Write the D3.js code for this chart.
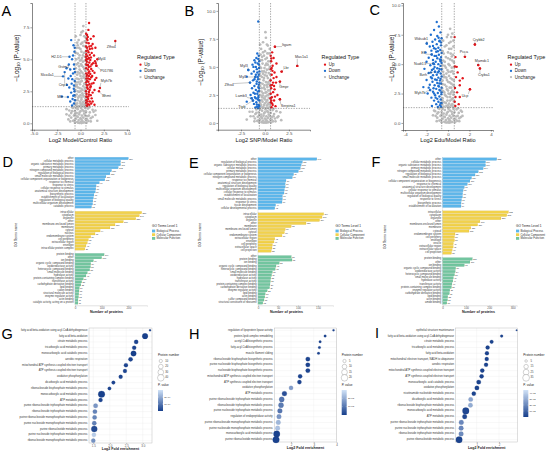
<!DOCTYPE html>
<html><head><meta charset="utf-8">
<script src="https://cdn.jsdelivr.net/npm/d3@7"></script>
<style>body{margin:0;background:#fff}svg{display:block;font-family:"Liberation Sans",Arial,"DejaVu Sans",sans-serif}</style>
</head><body><svg id="c" width="550" height="452"></svg>
<script>
// ================= DATA =================
// ---- Volcano A (Model vs Control) ----
const A_up = [[0.92,7.84],[0.85,7.3],[0.7,6.9],[1.1,6.6],[0.65,6.3],[1.3,6.2],[0.95,6.0],[1.6,5.9],[0.75,5.7],[1.2,5.5],[0.62,5.4],[1.45,5.3],[0.9,5.1],[1.05,4.95],[0.68,4.8],[1.35,4.7],[0.8,4.55],[1.7,4.5],[0.6,4.3],[1.15,4.25],[0.95,4.05],[1.5,3.95],[0.72,3.8],[1.25,3.7],[0.63,3.5],[1.0,3.45],[0.85,3.25],[1.4,3.15],[0.66,3.0],[1.1,2.9],[0.78,2.7],[0.6,2.5],[1.3,2.4],[0.9,2.25],[0.7,2.05],[1.2,1.95],[0.62,1.8],[1.0,1.7],[0.8,1.5],[0.65,1.4],[1.5,1.45],[1.8,5.0],[1.55,3.4],[0.75,6.5],[1.0,5.8],[0.6,6.0],[0.88,4.4],[0.7,3.3],[0.98,2.6],[1.15,3.6],[0.66,5.05],[0.82,1.9],[0.6,7.0],[0.78,6.75],[1.4,6.8],[0.7,5.9],[1.25,5.85],[0.58,5.2],[1.0,5.35],[0.75,5.0],[1.55,4.85],[0.62,4.6],[1.05,4.45],[0.8,4.2],[1.3,4.1],[0.6,3.9],[0.9,3.7],[1.7,3.55],[0.8,3.5],[0.6,3.2],[1.2,3.1],[0.75,2.95],[1.05,2.8],[1.5,2.6],[0.65,2.3],[1.1,2.2],[0.85,2.1],[0.6,1.6],[1.3,1.7],[0.95,1.45],[0.72,1.35],[0.68,6.6],[0.88,6.25],[1.15,6.05],[0.62,5.65],[0.86,5.55],[0.74,5.25],[1.12,5.15],[0.94,4.75],[0.7,4.55],[1.2,4.6],[0.85,3.95],[1.05,3.85],[0.66,3.7],[0.95,3.05],[0.7,2.8],[0.62,2.1],[0.9,2.45],[0.75,1.7],[1.15,1.55],[0.6,4.95]];
const A_down = [[-1.0,6.5],[-0.75,6.1],[-0.65,5.6],[-0.9,5.0],[-1.5,4.3],[-0.7,4.6],[-0.8,3.9],[-1.3,3.5],[-0.62,3.3],[-0.95,3.1],[-1.2,2.8],[-0.72,2.7],[-1.0,2.4],[-0.66,2.2],[-0.85,1.9],[-1.1,1.7],[-0.7,1.55],[-0.9,1.4],[-2.0,2.1],[-1.45,3.0],[-0.6,4.0],[-0.8,5.3],[-1.05,3.7],[-0.62,5.9],[-1.25,4.6],[-0.7,2.95],[-0.6,1.8],[-0.68,4.25],[-0.88,3.45],[-0.65,2.5],[-0.78,2.15]];
const A_unch = [[0.3,7.6],[0.1,7.1],[0.4,6.8],[-0.2,6.5],[0.2,6.3],[0.5,6.0],[-0.4,5.9],[0.0,5.8],[0.35,5.5],[-0.1,5.3],[0.15,5.1],[-0.45,5.0],[0.45,4.9],[-0.25,4.7],[0.05,4.6],[0.3,4.4],[-0.5,4.3],[-0.1,4.2],[0.5,4.1],[0.2,3.95],[-0.35,3.8],[0.0,3.7],[0.4,3.55],[-0.2,3.45],[0.15,3.3],[-0.5,3.2],[0.55,3.1],[-0.05,3.05],[0.3,2.9],[-0.3,2.8],[0.1,2.7],[-0.55,2.6],[0.45,2.55],[-0.15,2.45],[0.2,2.35],[-0.4,2.25],[0.0,2.2],[0.35,2.1],[-0.25,2.0],[0.55,1.95],[0.1,1.85],[-0.5,1.8],[-0.05,1.7],[0.25,1.65],[-0.35,1.55],[0.45,1.5],[0.05,1.42],[-0.15,1.35],[0.3,1.32],[-0.45,1.4],[0.25,7.2],[0.45,6.4],[-0.3,6.1],[0.1,5.6],[-0.05,4.9],[0.25,4.8],[-0.3,4.0],[0.35,3.8],[0.1,3.5],[-0.4,3.0],[0.45,2.75],[0.0,2.5],
[-0.5,6.8],[0.0,6.9],[0.55,6.7],[-0.35,6.3],[0.05,6.2],[0.3,6.05],[-0.15,5.9],[0.55,5.6],[-0.5,5.5],[0.25,5.3],[-0.3,5.45],[0.45,5.2],[-0.2,5.1],[0.1,4.95],[0.55,4.6],[-0.4,4.6],[0.15,4.5],[-0.15,4.45],[0.4,4.25],[-0.55,4.0],[0.05,4.05],[0.3,3.65],[-0.1,3.9],[0.55,3.4],[-0.4,3.5],[0.0,3.25],[-0.25,3.2],[0.4,3.1],[0.2,2.6],[-0.5,2.9],[-0.1,2.75],[0.55,2.35],[-0.3,2.5],[0.25,2.2],[-0.55,2.1],[0.1,2.0],[-0.15,2.1],[0.45,1.75],[-0.3,1.8],[0.2,1.5],[-0.55,1.5],[0.0,1.55],[0.35,1.4],[-0.25,1.3],
[-0.8,1.2],[0.8,1.15],[-1.2,1.0],[1.3,1.05],[-0.3,1.1],[0.2,1.05],[-0.6,0.95],[0.6,0.9],[0.0,0.95],[-1.0,0.8],[1.0,0.85],[-0.4,0.8],[0.4,0.75],[-1.5,0.7],[1.6,0.65],[-0.15,0.7],[0.15,0.6],[-0.7,0.6],[0.75,0.55],[-0.3,0.5],[0.3,0.45],[-1.0,0.45],[1.1,0.4],[0.0,0.4],[-0.5,0.35],[0.55,0.3],[-0.2,0.25],[0.2,0.2],[-0.8,0.2],[0.85,0.18],[0.05,0.12],[-0.35,0.1],[0.4,0.08],[-0.1,0.03],[0.1,0.02],[-0.6,0.05],[0.65,0.05],[1.4,0.9],[-1.3,0.3],[1.8,0.2],[-0.9,1.25],[0.95,1.25],
[-0.45,1.2],[0.5,1.2],[0.05,1.2],[-1.5,1.1],[1.6,1.0],[-0.9,0.95],[0.9,0.6],[-0.6,0.7],[0.35,0.95],[-0.1,0.85],[-1.2,0.6],[1.3,0.5],[0.5,0.6],[-0.4,0.55],[0.1,0.3],[-0.65,0.25],[0.7,0.3],[-1.1,0.15],[1.1,0.15],[0.25,0.05],[-0.25,0.05]];
const A_genes = ["Zfhx4","Myl4","P01786","Myh7b","Bhmt","H2-D1","Gstm2","Slco4a1","Cnp1","Mlrr"];
const A_geneXY = [[3.73,6.43],[1.63,4.69],[1.7,4.5],[2.08,2.76],[1.98,2.5],[-1.18,5.2],[-1.1,4.2],[-1.87,3.67],[-1.7,4.0],[-1.35,2.05]];
const A_xTicks = [-5,-2.5,0,2.5,5], A_yTicks = [0,2.5,5,7.5];
const A_xTitle = "Log2 Model/Control Ratio";

// ---- Volcano B (SNP vs Model) ----
const B_up = [[1.04,6.8],[0.75,6.3],[0.6,6.0],[0.9,5.8],[3.37,5.09],[0.65,5.5],[1.2,5.3],[0.8,5.1],[0.62,4.8],[1.74,4.58],[1.0,4.5],[0.7,4.3],[0.9,4.0],[0.6,3.8],[1.56,3.69],[1.15,3.6],[0.75,3.4],[0.65,3.1],[1.0,3.0],[0.85,2.75],[0.6,2.6],[1.3,2.5],[0.72,2.3],[1.56,2.12],[0.95,2.0],[0.62,1.85],[0.8,1.6],[1.1,1.5],[0.68,1.4],[0.58,2.2],[0.7,4.9],[0.85,3.6],[0.6,3.35],[1.2,4.1],[0.66,5.75],[0.78,4.65],[0.95,3.3],[0.66,2.0],[0.74,1.75],[1.05,2.35]];
const B_down = [[-0.7,9.05],[-0.65,6.0],[-0.9,5.8],[-0.6,5.5],[-1.1,5.6],[-0.75,5.3],[-1.3,5.2],[-0.95,5.0],[-0.62,4.9],[-1.74,4.73],[-1.15,4.6],[-0.8,4.5],[-1.4,4.4],[-0.65,4.3],[-1.9,4.13],[-1.0,4.1],[-0.72,3.9],[-1.25,3.8],[-1.56,3.6],[-0.6,3.6],[-0.88,3.5],[-1.1,3.3],[-0.7,3.2],[-1.35,3.1],[-0.95,2.95],[-0.63,2.85],[-1.2,2.7],[-0.8,2.6],[-1.5,2.5],[-0.68,2.4],[-1.05,2.3],[-1.39,2.2],[-0.75,2.1],[-0.6,2.0],[-1.9,1.9],[-0.9,1.85],[-1.15,1.7],[-0.65,1.6],[-0.82,1.45],[-1.0,1.38],[-0.7,1.32],[-1.25,2.0],[-0.85,3.7],[-1.0,5.4],[-0.58,4.6],[-0.7,5.7],[-0.85,4.8],[-0.62,3.1],[-1.1,3.9],[-0.75,2.8],[-0.6,1.5],[-0.95,2.2],[-0.8,6.2],[-0.62,5.2],[-1.2,5.0],[-0.75,4.1],[-0.95,4.3],[-0.65,3.4],[-1.05,2.6],[-0.7,2.25],[-0.85,1.65]];
const B_unch = [[0.05,8.1],[0.1,7.6],[-0.2,7.2],[0.3,6.9],[-0.4,6.6],[0.0,6.4],[0.45,6.2],[-0.1,6.0],[0.2,5.8],[-0.5,5.6],[0.35,5.5],[-0.25,5.3],[0.05,5.15],[0.5,5.0],[-0.4,4.9],[0.2,4.75],[-0.1,4.6],[0.4,4.45],[-0.55,4.4],[0.0,4.25],[-0.3,4.1],[0.3,4.0],[0.55,3.85],[-0.15,3.8],[0.1,3.65],[-0.45,3.55],[0.45,3.45],[-0.05,3.35],[0.25,3.2],[-0.35,3.1],[0.0,3.0],[0.5,2.9],[-0.55,2.85],[0.15,2.75],[-0.2,2.65],[0.35,2.5],[-0.4,2.45],[0.05,2.35],[-0.1,2.2],[0.55,2.15],[0.25,2.05],[-0.5,2.0],[-0.25,1.9],[0.4,1.8],[0.0,1.75],[-0.4,1.6],[0.2,1.55],[0.5,1.45],[-0.15,1.4],[0.1,1.33],[-0.55,1.35],[0.2,7.0],[-0.3,5.9],[0.15,5.3],[-0.2,4.4],[0.3,3.6],[-0.3,2.3],
[-0.5,7.0],[0.5,6.6],[-0.2,6.3],[0.25,6.2],[-0.45,6.1],[0.05,5.7],[0.55,5.5],[-0.3,5.6],[0.3,5.2],[-0.5,5.0],[-0.05,4.9],[0.45,4.8],[-0.3,4.6],[0.1,4.5],[0.55,4.3],[-0.45,4.2],[0.2,4.2],[-0.1,4.0],[0.45,3.7],[-0.55,3.9],[-0.25,3.5],[0.2,3.4],[0.55,3.25],[-0.5,3.3],[-0.1,3.15],[0.35,2.9],[-0.35,2.8],[0.05,2.7],[0.45,2.6],[-0.55,2.5],[0.2,2.45],[-0.2,2.45],[0.0,2.1],[0.4,2.25],[-0.35,2.05],[0.15,1.9],[-0.5,1.75],[0.3,1.65],[-0.1,1.6],[0.5,1.7],[-0.3,1.4],[0.3,1.35],
[-0.9,1.2],[0.8,1.15],[-1.3,1.0],[1.2,1.05],[-0.3,1.1],[0.25,1.05],[-0.65,0.95],[0.6,0.9],[0.0,0.95],[-1.0,0.8],[0.95,0.8],[-0.4,0.75],[0.4,0.75],[-1.5,0.6],[1.4,0.6],[-0.15,0.65],[0.15,0.6],[-0.75,0.55],[0.75,0.55],[-0.3,0.45],[0.3,0.45],[-1.05,0.4],[1.05,0.4],[0.0,0.4],[-0.5,0.3],[0.55,0.3],[-0.2,0.22],[0.2,0.2],[-0.8,0.18],[0.85,0.15],[0.05,0.12],[-0.35,0.08],[0.4,0.08],[-0.1,0.03],[0.1,0.02],[-0.6,0.05],[0.65,0.04],[-1.9,0.3],[1.7,0.25],[-0.9,1.28],[0.9,1.27],
[-0.5,1.2],[0.5,1.2],[0.05,1.2],[-1.6,1.0],[1.6,0.95],[-0.9,0.9],[0.9,0.6],[-0.6,0.7],[0.35,0.95],[-0.1,0.85],[-1.2,0.6],[1.3,0.5],[0.5,0.6],[-0.4,0.55],[0.1,0.3],[-0.65,0.25],[0.7,0.3],[-1.1,0.15],[1.1,0.15],[0.25,0.05],[-0.25,0.05]];
const B_genes = ["Itgam","Mas1a1","Lbr","Gmpr","Serpina1","Myl3","Myl1","Zfhx4","Lamb3","Ttpb"];
const B_geneXY = [[1.04,6.8],[3.37,5.09],[1.74,4.58],[1.56,3.69],[1.56,2.12],[-1.74,4.73],[-1.0,4.1],[-1.56,3.6],[-1.39,2.2],[-1.25,2.0]];
const B_xTicks = [-2.5,0,2.5], B_yTicks = [0,2.5,5,7.5,10];
const B_xTitle = "Log2 SNP/Model Ratio";

// ---- Volcano C (Edu vs Model) ----
const C_up = [[2.51,6.67],[1.58,5.62],[2.82,4.92],[2.98,4.64],[2.05,2.86],[0.62,7.3],[0.7,5.6],[0.81,4.77],[0.65,4.8],[0.9,4.3],[1.1,3.6],[1.37,3.8],[0.75,3.9],[1.1,3.2],[0.65,2.97],[0.85,2.6],[1.1,2.2],[0.7,2.2],[0.63,1.8],[1.0,1.6],[0.68,1.45]];
const C_down = [[-1.05,8.58],[-0.85,8.2],[-1.3,7.9],[-0.7,7.7],[-1.6,7.5],[-1.0,7.4],[-0.6,7.2],[-1.2,7.1],[-0.8,6.95],[-1.45,6.9],[-1.98,6.75],[-1.05,6.7],[-0.65,6.6],[-1.7,6.5],[-0.9,6.4],[-1.3,6.35],[-0.72,6.2],[-1.55,6.15],[-1.1,6.05],[-0.6,5.95],[-2.1,6.0],[-1.52,5.82],[-0.85,5.8],[-1.25,5.7],[-0.65,5.6],[-1.8,5.55],[-1.0,5.5],[-0.75,5.4],[-1.4,5.35],[-2.0,5.2],[-1.15,5.2],[-0.6,5.1],[-1.37,5.06],[-0.9,5.0],[-1.65,4.9],[-0.7,4.85],[-1.25,4.75],[-1.0,4.65],[-2.2,4.6],[-0.62,4.55],[-1.5,4.5],[-0.85,4.4],[-1.21,4.35],[-1.8,4.25],[-0.68,4.2],[-1.05,4.1],[-1.4,4.05],[-0.6,3.95],[-1.6,3.9],[-0.9,3.85],[-1.2,3.7],[-2.0,3.65],[-0.75,3.6],[-1.45,3.5],[-1.0,3.4],[-0.65,3.35],[-1.7,3.25],[-1.25,3.2],[-0.85,3.1],[-2.3,3.05],[-0.6,3.0],[-1.67,2.8],[-1.1,2.9],[-0.72,2.75],[-1.4,2.65],[-0.95,2.55],[-1.9,2.5],[-0.62,2.45],[-1.2,2.35],[-0.8,2.25],[-1.55,2.15],[-1.0,2.05],[-0.68,2.0],[-1.3,1.9],[-0.9,1.8],[-0.6,1.7],[-1.1,1.6],[-0.75,1.5],[-1.5,1.45],[-0.65,1.38],[-0.95,1.35],[-0.78,7.0],[-1.15,6.3],[-0.7,5.25],[-1.6,4.3],[-0.8,3.35],[-1.35,2.95],[-0.6,2.6],[-1.8,3.0],[-0.95,4.3],[-1.3,5.0],[-0.88,7.25],[-0.65,6.85],[-1.4,6.55],[-0.95,6.1],[-0.66,5.35],[-1.1,5.7],[-0.8,4.6],[-1.35,4.6],[-0.7,3.75],[-1.05,3.65],[-0.9,3.15],[-1.5,3.8],[-0.8,2.8],[-1.15,2.15],[-0.7,1.7],[-1.3,2.5]];
const C_unch = [[0.2,8.0],[0.4,7.6],[-0.1,7.3],[0.5,7.0],[0.1,6.8],[-0.3,6.5],[0.3,6.3],[-0.5,6.1],[0.0,6.0],[0.45,5.8],[-0.2,5.6],[0.2,5.4],[-0.45,5.3],[0.55,5.15],[0.05,5.0],[-0.3,4.85],[0.35,4.7],[-0.55,4.6],[-0.05,4.5],[0.25,4.35],[0.5,4.2],[-0.4,4.1],[0.1,4.0],[-0.15,3.85],[0.4,3.7],[-0.5,3.6],[0.0,3.5],[0.3,3.35],[-0.3,3.25],[0.55,3.15],[0.15,3.0],[-0.55,2.95],[-0.1,2.85],[0.4,2.75],[-0.35,2.6],[0.05,2.5],[0.5,2.4],[-0.2,2.3],[0.2,2.2],[-0.5,2.1],[0.35,2.0],[-0.05,1.9],[0.55,1.85],[-0.35,1.75],[0.1,1.65],[-0.55,1.6],[0.3,1.5],[-0.15,1.45],[0.45,1.38],[0.0,1.33],[0.3,7.3],[0.25,5.9],[-0.15,4.2],[0.3,2.6],[-0.4,3.9],
[-0.45,7.0],[0.0,7.5],[0.25,6.9],[-0.15,6.6],[0.5,6.5],[0.1,6.3],[-0.4,5.9],[0.35,5.65],[0.0,5.5],[-0.3,5.2],[0.4,5.3],[0.15,4.9],[-0.5,4.9],[0.55,4.75],[-0.2,4.7],[0.05,4.35],[0.4,4.4],[-0.45,4.35],[-0.3,3.9],[0.25,3.8],[0.55,3.6],[-0.1,3.65],[0.15,3.45],[-0.5,3.3],[0.45,3.25],[-0.15,3.1],[0.3,3.0],[0.0,2.75],[-0.45,2.7],[0.55,2.6],[0.2,2.45],[-0.3,2.4],[-0.05,2.2],[0.45,2.1],[-0.5,1.9],[0.2,1.9],[-0.2,1.7],[0.4,1.6],[0.0,1.5],[-0.4,1.4],[0.15,1.35],
[-0.8,1.2],[0.8,1.15],[-1.2,1.0],[1.2,1.05],[-0.3,1.1],[0.2,1.05],[-0.6,0.95],[0.6,0.9],[0.0,0.95],[-1.0,0.8],[1.0,0.85],[-0.4,0.8],[0.4,0.75],[-1.4,0.65],[1.35,0.6],[-0.15,0.7],[0.15,0.6],[-0.7,0.6],[0.75,0.55],[-0.3,0.5],[0.3,0.45],[-1.0,0.45],[1.05,0.4],[0.0,0.4],[-0.5,0.35],[0.55,0.3],[-0.2,0.25],[0.2,0.2],[-0.8,0.2],[0.85,0.18],[0.05,0.12],[-0.35,0.1],[0.4,0.08],[-0.1,0.03],[0.1,0.02],[-0.6,0.05],[0.65,0.05],[-0.9,1.25],[0.95,1.25],
[-0.5,1.2],[0.5,1.2],[0.05,1.2],[-1.3,1.05],[1.3,0.95],[-0.9,0.9],[0.9,0.6],[-0.6,0.7],[0.35,0.95],[-0.1,0.85],[-1.15,0.6],[1.2,0.5],[0.5,0.6],[-0.4,0.55],[0.1,0.3],[-0.65,0.25],[0.7,0.3],[-1.05,0.15],[1.05,0.15],[0.25,0.05],[-0.25,0.05]];
const C_genes = ["Wdsub1","Ell","Nudt13","Bzrh","Myh7b","Crybb2","Pcca","Mamdc1","Cryba1","Ucp"];
const C_geneXY = [[-1.98,6.75],[-1.52,5.82],[-1.37,5.06],[-1.21,4.35],[-1.67,2.8],[2.51,6.67],[1.58,5.62],[2.82,4.92],[2.98,4.64],[2.05,2.86]];
const C_xTicks = [-4,-2,0,2,4], C_yTicks = [0,2.5,5,7.5,10];
const C_xTitle = "Log2 Edu/Model Ratio";
const regTypes = ["Up","Down","Unchange"];

// ---- GO bar data ----
const D_bp = ["other","cellular metabolic process","organic substance metabolic process","primary metabolic process","nitrogen compound metabolic process","regulation of biological process","small molecule metabolic process","cellular component organization or biogenesis","response to chemical","response to stress","cellular response to stimulus","anatomical structure development","biosynthetic process","establishment of localization","regulation of biological quality","multicellular organism development","catabolic process"];
const D_bpV = [200,171,171,162,137,131,116,112,91,79,78,76,71,69,67,66,62];
const D_cc = ["intracellular","cytoplasm","organelle","other","membrane-enclosed lumen","membrane","cytosol","nucleus","endomembrane system","cell periphery","extracellular region","envelope","intracellular protein complex"];
const D_ccV = [250,241,228,181,150,131,94,75,59,50,46,41,37];
const D_mf = ["protein binding","other","ion binding","organic cyclic compound binding","oxidoreductase activity","heterocyclic compound binding","small molecule binding","hydrolase activity","protein-containing complex binding","transferase activity","carbohydrate derivative binding","lipid binding","cation binding","structural molecule activity","enzyme regulator activity","actin binding","catalytic activity, acting on a protein"];
const D_mfV = [109,100,69,59,58,55,46,41,31,25,22,16,15,14,13,11,11];

const E_bp = ["other","regulation of biological process","organic substance metabolic process","cellular metabolic process","primary metabolic process","cellular component organization or biogenesis","nitrogen compound metabolic process","response to chemical","anatomical structure development","regulation of biological quality","multicellular organism development","cellular response to stimulus","establishment of localization","small molecule metabolic process","response to stress","tissue development","cellular developmental process"];
const E_bpV = [147,111,108,106,101,89,86,70,68,68,66,65,61,61,60,44,42];
const E_cc = ["intracellular","cytoplasm","organelle","other","membrane","membrane-enclosed lumen","cytosol","endomembrane system","extracellular region","envelope","cell periphery","extracellular space","cell projection"];
const E_ccV = [164,160,154,120,83,68,66,60,42,40,36,35,33];
const E_mf = ["other","protein binding","ion binding","organic cyclic compound binding","heterocyclic compound binding","small molecule binding","oxidoreductase activity","hydrolase activity","transferase activity","protein-containing complex binding","carbohydrate derivative binding","enzyme regulator activity","lipid binding","actin binding","sulfur compound binding","structural constituent of ribosome"];
const E_mfV = [83,85,53,45,43,36,34,32,31,30,29,23,18,17,15,12];

const F_bp = ["other","cellular metabolic process","organic substance metabolic process","primary metabolic process","nitrogen compound metabolic process","regulation of biological process","small molecule metabolic process","cellular component organization or biogenesis","response to chemical","anatomical structure development","cellular response to stimulus","multicellular organism development","regulation of biological quality","response to stress","biosynthetic process","establishment of localization"];
const F_bpV = [232,184,184,174,153,139,124,117,106,93,88,86,85,81,79,79];
const F_cc = ["intracellular","cytoplasm","organelle","other","membrane-enclosed lumen","membrane","cytosol","endomembrane system","cell periphery","envelope","vesicle","extracellular region","extracellular space","cell projection"];
const F_ccV = [282,275,250,160,150,121,113,53,51,51,46,45,41,38];
const F_mf = ["protein binding","other","ion binding","organic cyclic compound binding","oxidoreductase activity","heterocyclic compound binding","small molecule binding","hydrolase activity","transferase activity","protein-containing complex binding","enzyme regulator activity","carbohydrate derivative binding","lipid binding","actin binding","amide binding"];
const F_mfV = [127,117,93,56,54,51,46,44,40,38,31,29,22,21,18];
const D_ticks = [0,100,200], E_ticks = [0,50,100,150], F_ticks = [0,100,200,300];
const goLevels = ["Biological Process","Cellular Component","Molecular Function"];

// ---- GO enrichment bubble data ----
const G_terms = ["fatty acid beta-oxidation using acyl-CoA dehydrogenase","fatty acid beta-oxidation","citrate metabolic process","tricarboxylic acid metabolic process","monocarboxylic acid catabolic process","aerobic respiration","mitochondrial ATP synthesis coupled electron transport","ATP synthesis coupled electron transport","oxidative phosphorylation","dicarboxylic acid metabolic process","ribonucleoside bisphosphate metabolic process","monocarboxylic acid metabolic process","ATP metabolic process","purine ribonucleoside triphosphate metabolic process","ribonucleoside triphosphate metabolic process","purine ribonucleoside monophosphate metabolic process","purine nucleoside monophosphate metabolic process","purine ribonucleotide metabolic process","purine nucleoside triphosphate metabolic process","ribonucleoside monophosphate metabolic process"];
const G_fold = [3.22,3.07,2.80,2.74,2.72,2.63,2.49,2.46,2.33,2.11,1.99,1.75,1.72,1.57,1.55,1.54,1.53,1.53,1.52,1.50];
const G_n = [4,29,16,15,27,17,15,14,14,12,11,40,15,18,17,17,17,33,16,16];
const G_p = [1e-5,1e-6,1e-5,1e-5,1e-6,1e-5,1e-5,1e-5,1e-5,1e-5,1e-5,1e-6,1e-5,1.6e-4,1.25e-4,1.3e-4,1.2e-4,2e-5,2.6e-4,1.5e-4];
const G_xTicks = [1.5,2.0,2.5,3.0], G_sizeKeys = [10,20,30,40], G_pTicks = [1e-4,2e-4];

const H_terms = ["regulation of lipoprotein lipase activity","protein-lipid complex remodeling","acetyl-CoA biosynthetic process","fatty-acyl-CoA biosynthetic process","muscle filament sliding","ribonucleoside bisphosphate biosynthetic process","purine nucleoside bisphosphate biosynthetic process","nucleoside bisphosphate biosynthetic process","mitochondrial ATP synthesis coupled electron transport","ATP synthesis coupled electron transport","oxidative phosphorylation","ATP metabolic process","purine ribonucleoside triphosphate metabolic process","ribonucleoside triphosphate metabolic process","purine nucleoside triphosphate metabolic process","regulation of endopeptidase activity","purine ribonucleoside monophosphate metabolic process","purine nucleoside monophosphate metabolic process","monocarboxylic acid metabolic process","purine ribonucleotide metabolic process"];
const H_fold = [3.87,3.5,3.28,3.25,3.21,2.74,2.74,2.74,2.40,2.37,2.0,1.71,1.59,1.56,1.51,1.47,1.44,1.41,1.37,1.34];
const H_n = [2,3,3,3,3,9,9,9,8,8,8,11,12,12,11,10,10,10,19,20];
const H_p = [1e-4,1e-4,1e-4,1e-4,1e-4,1e-4,1e-4,1e-4,1e-4,1e-4,0.0017,3e-4,0.001,0.0011,0.001,0.0016,0.0022,0.0024,5e-5,5e-5];
const H_xTicks = [2,3,4], H_sizeKeys = [5,10,15,20], H_pTicks = [0.001,0.002];

const I_terms = ["epithelial structure maintenance","fatty acid beta-oxidation using acyl-CoA dehydrogenase","citrate metabolic process","tricarboxylic acid metabolic process","fatty acid beta-oxidation","mitochondrial electron transport, NADH to ubiquinone","aerobic respiration","mitochondrial ATP synthesis coupled electron transport","ATP synthesis coupled electron transport","monocarboxylic acid catabolic process","oxidative phosphorylation","nicotinamide nucleotide metabolic process","dicarboxylic acid metabolic process","ribonucleoside bisphosphate metabolic process","monocarboxylic acid metabolic process","ATP metabolic process","purine ribonucleoside triphosphate metabolic process","purine nucleoside triphosphate metabolic process","ribonucleoside triphosphate metabolic process","purine ribonucleotide metabolic process"];
const I_fold = [2.79,2.12,1.67,1.49,1.46,1.45,1.42,1.25,1.22,1.09,1.01,0.87,0.73,0.72,0.51,0.46,0.31,0.30,0.30,0.21];
const I_n = [2,6,10,12,12,12,12,13,13,15,15,13,15,15,33,16,17,17,17,31];
const I_p = [1e-3,1e-3,1e-3,1e-3,1e-3,1e-3,1e-3,1e-3,1e-3,1e-3,1e-3,1e-3,0.028,0.03,0.002,0.002,0.02,0.02,0.021,0.001];
const I_xTicks = [1,2], I_sizeKeys = [5,15,25,35], I_pTicks = [0.01,0.02,0.03,0.04];

// ================= DRAWING =================
const svg = d3.select("#c");
svg.append("rect").attr("width",550).attr("height",452).attr("fill","#fff");
const defs = svg.append("defs");
const COL = {up:"#e3151b", down:"#1f6fd0", unch:"#bcbcbc"};
const GOCOL = ["#5db6ea","#f2d24b","#72c59f"], GOSTROKE = ["#3d98cf","#caa82a","#4fa67f"];
const fmtNum = f => v => d3.format(f)(v).replace("\u2212","-");

function letter(t, x, y) {
  svg.append("text").attr("x",x).attr("y",y).attr("font-size",14.5).attr("fill","#000").text(t);
}

function volcano(d, L) {
  const g = svg.append("g");
  const x = d3.scaleLinear(L.xd, L.xr), y = d3.scaleLinear(L.yd, L.yr);
  const pts = (arr, c, rr) => g.append("g").selectAll("circle").data(arr).join("circle")
    .attr("cx", p => x(p[0])).attr("cy", p => y(p[1])).attr("r", rr).attr("fill", c);
  pts(d.unch, COL.unch, 1.35); pts(d.down, COL.down, 1.2); pts(d.up, COL.up, 1.2);
  pts(d.geneXY.filter(p=>p[0]<0), COL.down, 1.2); pts(d.geneXY.filter(p=>p[0]>0), COL.up, 1.2);
  const fc = Math.log2(1.5), pv = -Math.log10(0.05);
  [-fc, fc].forEach(v => g.append("line").attr("x1",x(v)).attr("x2",x(v)).attr("y1",L.yr[1]).attr("y2",L.yr[0])
    .attr("stroke","#555").attr("stroke-width",0.5).attr("stroke-dasharray","1.4,1.2"));
  g.append("line").attr("x1",L.xr[0]).attr("x2",L.xr[1]).attr("y1",y(pv)).attr("y2",y(pv))
    .attr("stroke","#555").attr("stroke-width",0.5).attr("stroke-dasharray","1.4,1.2");
  const ax = g.append("g").attr("transform",`translate(0,${L.yr[0]})`)
    .call(d3.axisBottom(x).tickValues(d.xTicks).tickSize(1.6).tickPadding(1).tickFormat(fmtNum(L.xf)));
  const ay = g.append("g").attr("transform",`translate(${L.xr[0]},0)`)
    .call(d3.axisLeft(y).tickValues(d.yTicks).tickSize(1.6).tickPadding(1).tickFormat(fmtNum(".1f")));
  [ax, ay].forEach(a => { a.select(".domain").attr("stroke","#222").attr("stroke-width",0.55);
    a.selectAll(".tick line").attr("stroke","#333").attr("stroke-width",0.45);
    a.selectAll(".tick text").attr("font-size",4.4).attr("fill","#4d4d4d").attr("font-family",null); });
  g.append("text").attr("x",(L.xr[0]+L.xr[1])/2).attr("y",141.5).attr("text-anchor","middle")
    .attr("font-size",5.6).attr("fill","#111").text(d.xTitle);
  const yt = g.append("text").attr("transform",`translate(${L.ytx},${L.yty}) rotate(-90)`).attr("text-anchor","middle")
    .attr("font-size",6.4).attr("fill","#111");
  yt.append("tspan").text("\u2212Log");
  yt.append("tspan").attr("font-size",4.2).attr("dy",1.4).text("10");
  yt.append("tspan").attr("dy",-1.4).text(" (P-value)");
  const lab = g.append("g");
  d.genes.forEach((name, i) => {
    const px = x(d.geneXY[i][0]), py = y(d.geneXY[i][1]);
    const t = lab.append("text").attr("x", px + L.off[i][0]).attr("y", py + L.off[i][1])
      .attr("text-anchor","middle").attr("dominant-baseline","central").attr("font-size",3.7).attr("fill","#333").text(name);
    const bb = t.node().getBBox();
    const ex = Math.max(bb.x, Math.min(px, bb.x+bb.width)), ey = Math.max(bb.y+0.4, Math.min(py, bb.y+bb.height-0.4));
    if (Math.hypot(ex-px, ey-py) > 1.3)
      lab.insert("line", () => t.node()).attr("x1",px).attr("y1",py).attr("x2",ex).attr("y2",ey).attr("stroke","#444").attr("stroke-width",0.3);
  });
  g.append("text").attr("x",L.lx).attr("y",L.ly).attr("font-size",5.4).attr("fill","#111").text("Regulated Type");
  [COL.up, COL.down, COL.unch].forEach((c,i) => {
    const yy = L.ly + 6.2 + i*6.2;
    g.append("circle").attr("cx",L.lx+3.5).attr("cy",yy).attr("r",1.15).attr("fill",c);
    g.append("text").attr("x",L.lx+7.2).attr("y",yy).attr("dominant-baseline","central").attr("font-size",4.5).attr("fill","#222").text(regTypes[i]);
  });
}

function goBars(d, L) {
  const g = svg.append("g");
  const groups = [[d.bp,d.bpV],[d.cc,d.ccV],[d.mf,d.mfV]];
  const gap = 0.9, total = d.bp.length + d.cc.length + d.mf.length + 2*gap;
  const step = (L.bottom - L.top) / total;
  const rows = []; let pos = 0;
  groups.forEach((gr, gi) => { gr[0].forEach((name, i) => { rows.push({name, v: gr[1][i], gi, y: L.top + (pos+0.5)*step}); pos++; }); pos += gap; });
  const x = d3.scaleLinear([0, L.max], [L.x0, L.x1]);
  g.selectAll("rect.bar").data(rows).join("rect").attr("class","bar")
    .attr("x", x(0)).attr("y", r => r.y - step*0.4).attr("height", step*0.8)
    .attr("width", r => x(r.v) - x(0)).attr("fill", r => GOCOL[r.gi]).attr("stroke", r => GOSTROKE[r.gi]).attr("stroke-width",0.2);
  g.selectAll("text.vl").data(rows).join("text").attr("class","vl")
    .attr("x", r => x(r.v) + 0.8).attr("y", r => r.y).attr("dominant-baseline","central").attr("font-size",2.2).attr("fill","#333").text(r => r.v);
  g.selectAll("text.nm").data(rows).join("text").attr("class","nm")
    .attr("x", x(0) - 1.4).attr("y", r => r.y).attr("text-anchor","end").attr("dominant-baseline","central").attr("font-size",2.6).attr("fill","#3a3a3a").text(r => r.name);
  const ax = g.append("g").attr("transform",`translate(0,${L.bottom+0.8})`)
    .call(d3.axisBottom(x).tickValues(d.ticks).tickSize(1.2).tickPadding(0.8).tickFormat(d3.format("d")));
  ax.select(".domain").attr("stroke","#b5b5b5").attr("stroke-width",0.4);
  ax.selectAll(".tick line").attr("stroke","#999").attr("stroke-width",0.35);
  ax.selectAll(".tick text").attr("font-size",2.9).attr("fill","#555").attr("font-family",null);
  g.append("line").attr("x1",x(0)).attr("x2",x(0)).attr("y1",L.top).attr("y2",L.bottom+0.8).attr("stroke","#c5c5c5").attr("stroke-width",0.35);
  g.append("text").attr("x",L.xtx).attr("y",L.bottom+8.2).attr("text-anchor","middle").attr("font-size",3.6).attr("font-weight","bold").attr("fill","#222").text("Number of proteins");
  g.append("text").attr("transform",`translate(${L.ytx},${L.yty}) rotate(-90)`).attr("text-anchor","middle").attr("font-size",3.3).attr("fill","#222").text("GO Terms name");
  g.append("text").attr("x",L.lx).attr("y",L.ly).attr("font-size",3.2).attr("fill","#222").text("GO Terms Level 1");
  goLevels.forEach((n,i) => {
    const yy = L.ly + 4 + i*3.7;
    g.append("rect").attr("x",L.lx).attr("y",yy-1.4).attr("width",3.2).attr("height",2.8).attr("fill",GOCOL[i]);
    g.append("text").attr("x",L.lx+4.4).attr("y",yy).attr("dominant-baseline","central").attr("font-size",2.8).attr("fill","#333").text(n);
  });
}

let gradId = 0;
function bubbles(d, L) {
  const g = svg.append("g");
  const x = d3.scaleLinear(L.xd, [L.l, L.r]);
  const y = d3.scalePoint(d.terms, [L.t, L.b]).padding(0.4);
  const r = d3.scaleSqrt([0, L.nMax], [0, L.rMax]);
  const col = d3.scaleLinear(L.pd, ["#173f8c","#d0e2f7"]).clamp(true);
  g.append("rect").attr("x",L.l).attr("y",L.t).attr("width",L.r-L.l).attr("height",L.b-L.t).attr("fill","#fff");
  g.selectAll("line.gy").data(d.terms).join("line").attr("x1",L.l).attr("x2",L.r).attr("y1",t=>y(t)).attr("y2",t=>y(t)).attr("stroke","#ebebeb").attr("stroke-width",0.35);
  g.selectAll("line.gx").data(d.xTicks).join("line").attr("x1",v=>x(v)).attr("x2",v=>x(v)).attr("y1",L.t).attr("y2",L.b).attr("stroke","#ebebeb").attr("stroke-width",0.35);
  g.append("rect").attr("x",L.l).attr("y",L.t).attr("width",L.r-L.l).attr("height",L.b-L.t).attr("fill","none").attr("stroke","#b8b8b8").attr("stroke-width",0.45);
  const ax = g.append("g").attr("transform",`translate(0,${L.b})`).call(d3.axisBottom(x).tickValues(d.xTicks).tickSize(1.1).tickPadding(0.7).tickFormat(fmtNum(L.xf)));
  ax.select(".domain").remove();
  ax.selectAll(".tick line").attr("stroke","#555").attr("stroke-width",0.35);
  ax.selectAll(".tick text").attr("font-size",2.9).attr("fill","#555").attr("font-family",null);
  g.selectAll("text.tm").data(d.terms).join("text").attr("class","tm").attr("x",L.l-1.6).attr("y",t=>y(t)).attr("text-anchor","end").attr("dominant-baseline","central").attr("font-size",2.7).attr("fill","#333").text(t=>t);
  const rows = d.terms.map((t,i)=>({t, f:d.fold[i], n:d.n[i], p:d.p[i]}));
  g.selectAll("circle.b").data(rows).join("circle").attr("class","b").attr("cx",o=>x(o.f)).attr("cy",o=>y(o.t)).attr("r",o=>r(o.n))
    .attr("fill",o=>col(o.p)).attr("stroke",o=>d3.color(col(o.p)).darker(0.4)).attr("stroke-width",0.2);
  g.append("text").attr("x",(L.l+L.r)/2).attr("y",L.b+7.2).attr("text-anchor","middle").attr("font-size",3.6).attr("font-weight","bold").attr("fill","#222").text("Log2 Fold enrichment");
  g.append("text").attr("x",L.lx).attr("y",355.5).attr("font-size",3.1).attr("fill","#222").text("Protein number");
  d.sizeKeys.forEach((k,i) => {
    const yy = 361 + i*5.6;
    g.append("circle").attr("cx",L.lx+2.8).attr("cy",yy).attr("r",r(k)).attr("fill","#fff").attr("stroke","#666").attr("stroke-width",0.3);
    g.append("text").attr("x",L.lx+7.2).attr("y",yy).attr("dominant-baseline","central").attr("font-size",2.6).attr("fill","#333").text(k);
  });
  g.append("text").attr("x",L.lx).attr("y",386).attr("font-size",3.1).attr("fill","#222").text("P. value");
  const id = "gr" + (gradId++);
  const lg = defs.append("linearGradient").attr("id",id).attr("x1",0).attr("y1",1).attr("x2",0).attr("y2",0);
  d3.range(0,1.001,0.25).forEach(s => lg.append("stop").attr("offset",s).attr("stop-color",col(L.pd[0]+s*(L.pd[1]-L.pd[0]))));
  const cb = d3.scaleLinear(L.pd, [L.cbB, 390]);
  g.append("rect").attr("x",L.lx).attr("y",390).attr("width",5).attr("height",L.cbB-390).attr("fill",`url(#${id})`);
  d.pTicks.forEach(v => {
    g.append("line").attr("x1",L.lx).attr("x2",L.lx+1).attr("y1",cb(v)).attr("y2",cb(v)).attr("stroke","#fff").attr("stroke-width",0.3);
    g.append("line").attr("x1",L.lx+4).attr("x2",L.lx+5).attr("y1",cb(v)).attr("y2",cb(v)).attr("stroke","#fff").attr("stroke-width",0.3);
    g.append("text").attr("x",L.lx+6.2).attr("y",cb(v)).attr("dominant-baseline","central").attr("font-size",2.4).attr("fill","#333").text(d3.format(".0e")(v).replace("e-","e-0"));
  });
}

// ---- Row 1: volcanoes ----
volcano({up:A_up,down:A_down,unch:A_unch,genes:A_genes,geneXY:A_geneXY,xTicks:A_xTicks,yTicks:A_yTicks,xTitle:A_xTitle},
  {xd:[-5.2,5.2], xr:[32,129], yd:[-0.5,9.4], yr:[129.7,3], xf:".1f", ytx:18.5, yty:58, lx:137, ly:58.5,
   off:[[-4,6],[6,-4.7],[10.3,5.6],[6.5,-6.7],[7.5,5],[-13,0.3],[-6.5,-3],[-15.9,-1],[-1.6,13.2],[-7.5,0]]});
volcano({up:B_up,down:B_down,unch:B_unch,genes:B_genes,geneXY:B_geneXY,xTicks:B_xTicks,yTicks:B_yTicks,xTitle:B_xTitle},
  {xd:[-4.9,4.7], xr:[218,310], yd:[-0.6,10.7], yr:[129.7,3], xf:".1f", ytx:203, yty:62, lx:321.5, ly:58.5,
   off:[[11.7,-1.8],[4.3,-8.7],[4.5,-3.6],[4,5.6],[8.3,6.7],[-4.3,-4],[-12.4,0.2],[-20.8,2.6],[-10.4,-2.4],[-11,6.1]]});
volcano({up:C_up,down:C_down,unch:C_unch,genes:C_genes,geneXY:C_geneXY,xTicks:C_xTicks,yTicks:C_yTicks,xTitle:C_xTitle},
  {xd:[-4.2,4.2], xr:[403,493], yd:[-0.6,10.2], yr:[130,3], xf:"d", ytx:394, yty:58, lx:507.5, ly:58.5,
   off:[[-5.5,-4.2],[-8.4,-2],[-13.3,0.7],[-11.7,3.3],[-10,3.3],[3.7,-5],[-1,-5],[3.7,-4.2],[4,6.8],[-5,6.4]]});
letter("A",1.5,15.5); letter("B",184.5,15.5); letter("C",369.5,15);

// ---- Row 2: GO bars ----
goBars({bp:D_bp,bpV:D_bpV,cc:D_cc,ccV:D_ccV,mf:D_mf,mfV:D_mfV,ticks:D_ticks},
  {x0:75, x1:147, max:270, top:157, bottom:304.5, xtx:106.5, ytx:16.5, yty:235, lx:152, ly:227});
goBars({bp:E_bp,bpV:E_bpV,cc:E_cc,ccV:E_ccV,mf:E_mf,mfV:E_mfV,ticks:E_ticks},
  {x0:258, x1:333, max:187.5, top:157.5, bottom:304.5, xtx:286.5, ytx:200.5, yty:235, lx:335.5, ly:227});
goBars({bp:F_bp,bpV:F_bpV,cc:F_cc,ccV:F_ccV,mf:F_mf,mfV:F_mfV,ticks:F_ticks},
  {x0:442.6, x1:516.8, max:318, top:157.5, bottom:304.5, xtx:478.5, ytx:385.5, yty:237, lx:516, ly:227});
letter("D",2.5,167); letter("E",189,168); letter("F",371.5,167);

// ---- Row 3: bubbles ----
bubbles({terms:G_terms,fold:G_fold,n:G_n,p:G_p,xTicks:G_xTicks,sizeKeys:G_sizeKeys,pTicks:G_pTicks},
  {l:89, r:152, t:328, b:443, xd:[1.37,3.28], xf:".1f", nMax:40, rMax:3.3, pd:[0,3e-4], lx:158, cbB:411});
bubbles({terms:H_terms,fold:H_fold,n:H_n,p:H_p,xTicks:H_xTicks,sizeKeys:H_sizeKeys,pTicks:H_pTicks},
  {l:274.3, r:336.7, t:328, b:442, xd:[1.264,4.01], xf:"d", nMax:20, rMax:3.3, pd:[0,0.003], lx:341.7, cbB:415});
bubbles({terms:I_terms,fold:I_fold,n:I_n,p:I_p,xTicks:I_xTicks,sizeKeys:I_sizeKeys,pTicks:I_pTicks},
  {l:455.7, r:517.7, t:328, b:442, xd:[0.058,2.84], xf:"d", nMax:35, rMax:3.4, pd:[0,0.045], lx:523.3, cbB:417});
letter("G",1.5,338.5); letter("H",189,338.5); letter("I",375,338);
</script></body></html>
